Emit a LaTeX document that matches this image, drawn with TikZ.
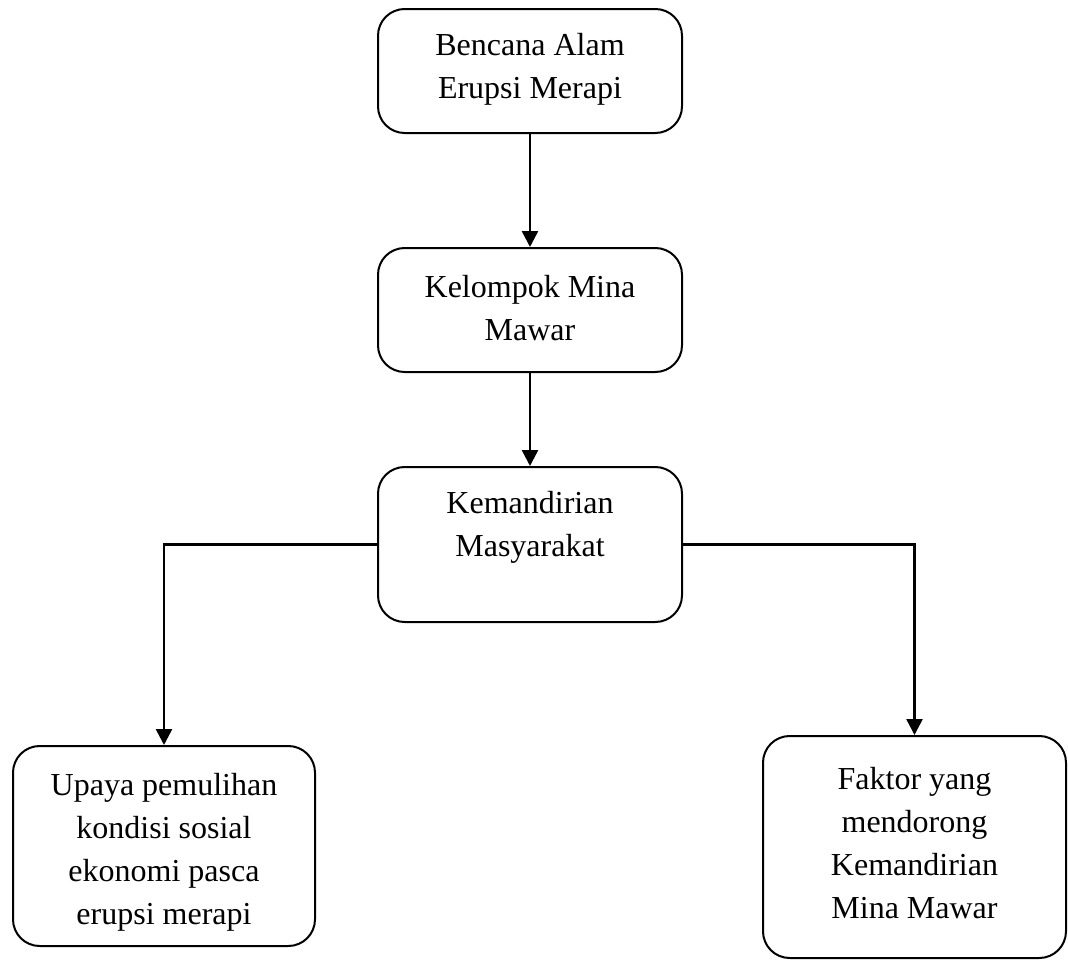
\documentclass[tikz,border=0pt]{standalone}
\usepackage{fontspec}
\setmainfont{Liberation Serif}
\usetikzlibrary{arrows.meta}
\begin{document}
\begin{tikzpicture}[x=0.75pt,y=-0.75pt,
  box/.style={draw=black,line width=1.5pt,rounded corners=20pt,fill=white,inner sep=0pt},
  txt/.style={align=center,font=\fontsize{24}{32.25}\selectfont,inner sep=0pt},
  conn/.style={line width=1.9pt,-{Triangle[length=12pt,width=12pt]}}]
\useasboundingbox[fill=white] (0,0) rectangle (1068,960);
\node[box,minimum width=228pt,minimum height=93pt] (b1) at (530,71) {};
\node[box,minimum width=228pt,minimum height=93pt] (b2) at (530,310) {};
\node[box,minimum width=228pt,minimum height=116.25pt] (b3) at (530,544.5) {};
\node[box,minimum width=226.5pt,minimum height=150pt] (b4) at (164,846) {};
\node[box,minimum width=227.25pt,minimum height=166.5pt] (b5) at (914.5,847) {};
\node[txt] (t1) at (530,69) {Bencana Alam\\Erupsi Merapi};
\node[txt] (t2) at (530,308) {Kelompok Mina\\Mawar};
\node[txt] (t3) at (530,527) {Kemandirian\\Masyarakat};
\node[txt] (t4) at (164,852) {Upaya pemulihan\\kondisi sosial\\ekonomi pasca\\erupsi merapi};
\node[txt] (t5) at (914.5,843) {Faktor yang\\mendorong\\Kemandirian\\Mina Mawar};
\draw[conn] (b1.south) -- (b2.north);
\draw[conn] (b2.south) -- (b3.north);
\draw[conn] (b3.west) -| (b4.north);
\draw[conn] (b3.east) -| (b5.north);
\end{tikzpicture}
\end{document}
